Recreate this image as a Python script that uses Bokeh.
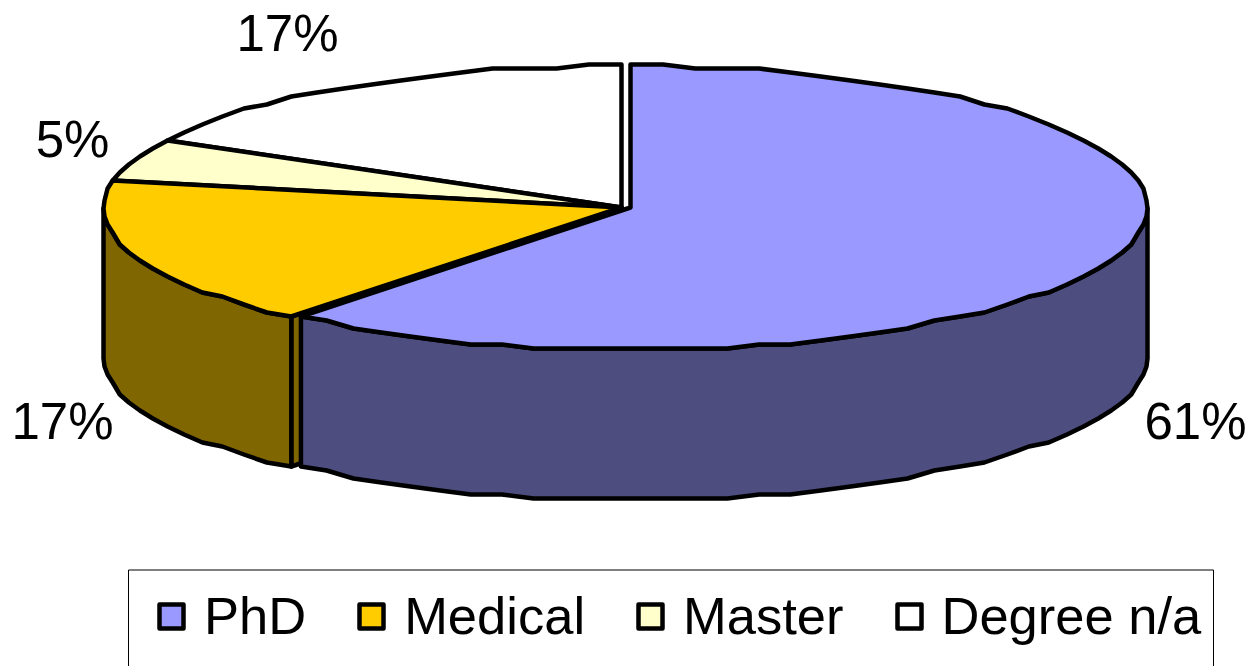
import numpy as np
from bokeh.plotting import figure
from bokeh.models import Range1d, Legend, LegendItem
from bokeh.core.properties import value
from bokeh.embed import file_html
from bokeh.resources import INLINE

categories = ["PhD", "Medical", "Master", "Degree n/a"]
shares = [61, 17, 5, 17]
labels = ["61%", "17%", "5%", "17%"]
top_colors = ["#9999ff", "#ffcc00", "#ffffcc", "#ffffff"]
wall_colors = ["#4d4d80", "#806600", "#808066", "#808080"]

# pie geometry, in page pixels
CX = [630, 621, 621, 621]
CY = 207
RX = [517, 518, 518, 518]
RY = 142
DEPTH = 150
LW = 4.5
LABEL_POS = [(1195, 421), (62, 421), (72, 139), (287, 33)]


def rim(cx, rx, a0, a1):
    n = max(2, int(round((a1 - a0) / 3.6)) + 1)
    a = np.radians(np.linspace(a0, a1, n))
    x = cx + rx * np.sin(a)
    y = np.round((CY - RY * np.cos(a)) / 4) * 4
    return x, y


p = figure(width=1254, height=666, x_range=Range1d(0, 1254), y_range=Range1d(666, 0),
           output_backend="svg", toolbar_location=None, min_border=0)
p.axis.visible = False
p.grid.visible = False
p.outline_line_color = None

edges = np.cumsum([0] + shares) / sum(shares) * 360
kw = dict(line_color="black", line_width=LW, line_join="round")

# Medical cut face, then the visible walls (PhD, Medical)
i = 1
rx_, ry_ = rim(CX[i], RX[i], edges[i], edges[i])
p.patch([rx_[0], CX[i], CX[i], rx_[0]], [ry_[0], CY, CY + DEPTH, ry_[0] + DEPTH], fill_color=wall_colors[i], **kw)

wall_span = [(edges[0] + 90, edges[1]), (edges[1], 270)]
for i, (a0, a1) in enumerate(wall_span):
    x, y = rim(CX[i], RX[i], a0, a1)
    p.patch(np.r_[x, x[::-1]], np.r_[y, y[::-1] + DEPTH], fill_color=wall_colors[i], **kw)

# top faces, later slices first so that PhD and Medical sit on top of them
tops = {}
for i in [3, 2, 1, 0]:
    x, y = rim(CX[i], RX[i], edges[i], edges[i + 1])
    tops[i] = p.patch(np.r_[CX[i], x], np.r_[CY, y], fill_color=top_colors[i], **kw)

for (lx, ly), t in zip(LABEL_POS, labels):
    p.text([lx], [ly], text=[t], text_font=value("Liberation Sans"), text_font_size="51px",
           text_align="center", text_baseline="middle", text_color="black")

# legend frame (runs off the bottom of the page, as in the reference)
p.quad(left=[128], right=[1213], top=[569.5], bottom=[700], fill_color="white",
       line_color="black", line_width=1)

legend = Legend(
    items=[LegendItem(label=c, renderers=[tops[i]]) for i, c in enumerate(categories)],
    location=(156, 20), orientation="horizontal",
    label_text_font="Liberation Sans", label_text_font_size="52.5px", label_text_color="black",
    glyph_width=30, glyph_height=30, label_standoff=18, spacing=50,
    padding=20, margin=0, border_line_color=None,
    background_fill_alpha=0,
)
p.add_layout(legend, "center")

open("out.html", "w").write(file_html(p, INLINE))
